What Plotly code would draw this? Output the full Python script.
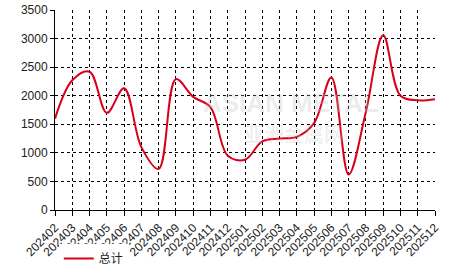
import plotly.graph_objects as go

months = ["202402","202403","202404","202405","202406","202407","202408","202409",
          "202410","202411","202412","202501","202502","202503","202504","202505",
          "202506","202507","202508","202509","202510","202511","202512"]
total = [1600, 2270, 2420, 1700, 2130, 1100, 720, 2290, 1980, 1800, 950, 880,
         1200, 1250, 1280, 1520, 2320, 620, 1720, 3060, 2000, 1920, 1940]

fig = go.Figure()
fig.add_trace(go.Scatter(x=months, y=total, mode="lines", name="总计",
                         line=dict(color="#d9001b", width=2, shape="spline", smoothing=1.0)))

fig.add_annotation(text="<b>ASIAN METAL</b>", x=0.62, y=0.535, xref="paper", yref="paper",
                   showarrow=False, font=dict(size=26, color="rgba(190,190,190,0.3)", family="Liberation Sans"))
fig.add_annotation(text="亚洲金属网", x=0.63, y=0.30, xref="paper", yref="paper",
                   showarrow=False, font=dict(size=20, color="rgba(190,190,190,0.3)", family="Noto Sans CJK SC"))

fig.update_layout(
    width=466, height=272,
    margin=dict(l=55, r=31, t=10, b=62, autoexpand=False),
    paper_bgcolor="white", plot_bgcolor="white",
    font=dict(family="Liberation Sans", size=12, color="#222"),
    showlegend=True,
    legend=dict(orientation="h", x=0.01, y=0.05, xanchor="left", yanchor="middle",
                yref="container", itemwidth=30, font=dict(size=12, family="Noto Sans CJK SC")),
    xaxis=dict(type="category", range=[0, 22], showgrid=True, gridcolor="#000",
               griddash="dot", gridwidth=1, tickangle=-45, ticks="outside", ticklen=5,
               tickcolor="#000", showline=True, linecolor="#000", linewidth=1,
               tickfont=dict(size=12), zeroline=False, automargin=False),
    yaxis=dict(range=[0, 3500], dtick=500, showgrid=True, gridcolor="#000",
               griddash="dot", gridwidth=1, ticks="outside", ticklen=4, tickcolor="#000",
               showline=True, linecolor="#000", linewidth=1, zeroline=False,
               tickfont=dict(size=12), automargin=False),
)
fig.write_html("out.html")
